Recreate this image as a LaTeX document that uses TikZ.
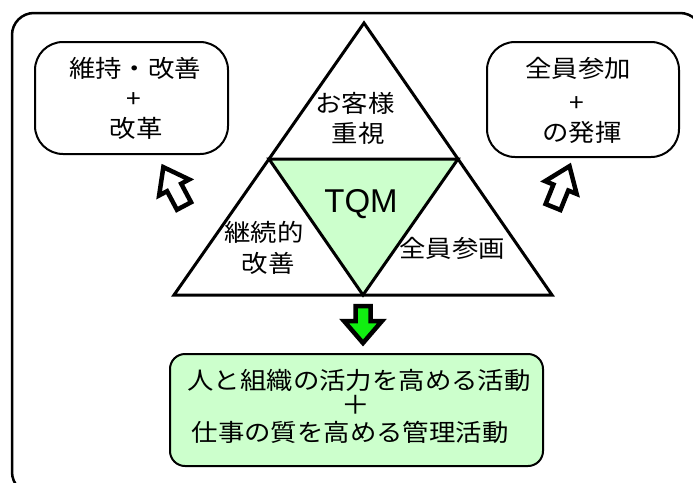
\documentclass[tikz,border=0pt]{standalone}
\usepackage{fontspec}
\setmainfont{Noto Sans CJK JP}[FakeStretch=1.1]
\newfontfamily\tqmfont{Liberation Sans}
\definecolor{lgreen}{HTML}{CCFFCC}
\definecolor{bgreen}{HTML}{11EE11}
\tikzset{
  jp/.style={inner sep=0pt, font=\fontsize{24}{26}\selectfont},
  roundbox/.style={draw=black, line width=2pt, rounded corners=28pt},
  tri/.style={line width=3pt, line join=miter},
  hollow/.style={draw=black, fill=white, line width=4.5pt, line join=miter},
}
\newcommand{\blockarrow}[5]{% length, headlen, headhalf, shafthalf, style
  \path[#5] (0,-#4) -- ({#1-#2},-#4) -- ({#1-#2},-#3) -- (#1,0) -- ({#1-#2},#3) -- ({#1-#2},#4) -- (0,#4) -- cycle;}
\begin{document}
\begin{tikzpicture}[x=1pt,y=-1pt]
\useasboundingbox (0,0) rectangle (693,482);
\clip (0,0) rectangle (693,482);
% outer frame
\draw[line width=2.5pt, rounded corners=22pt] (12,13) rectangle (702,494);
% boxes
\node[roundbox, minimum width=193pt, minimum height=112pt] (lbox) at (131.5,98) {};
\node[roundbox, minimum width=192pt, minimum height=115pt] (rbox) at (583,99.5) {};
\node[draw=black, fill=lgreen, line width=2pt, rounded corners=15pt, minimum width=373pt, minimum height=112pt] (bbox) at (356.5,410) {};
% triangle
\coordinate (A) at (364,23);
\coordinate (B) at (174,295);
\coordinate (C) at (552,295);
\coordinate (AB) at (269,159);
\coordinate (AC) at (458,159);
\coordinate (BC) at (363,295);
\fill[lgreen] (AB) -- (AC) -- (BC) -- cycle;
\draw[tri] (A) -- (B) -- (C) -- cycle;
\draw[tri] (AB) -- (AC) -- (BC) -- cycle;
% texts
\node[jp] (t1) at (135,68) {維持・改善};
\node[jp] (t2) at (134,100) {+};
\node[jp] (t3) at (136,128) {改革};
\node[jp] (t4) at (578,68) {全員参加};
\node[jp] (t5) at (577,104) {+};
\node[jp] (t6) at (582,132) {の発揮};
\node[jp] (t7) at (355,103) {お客様};
\node[jp] (t8) at (358,133) {重視};
\node[inner sep=0pt, font=\tqmfont\fontsize{33}{36}\selectfont] (tqm) at (361,204) {TQM};
\node[jp] (t9) at (264,232) {継続的};
\node[jp] (t10) at (268,263) {改善};
\node[jp] (t11) at (452,248) {全員参画};
\node[jp] (b1) at (359,380) {人と組織の活力を高める活動};
\node[jp, font=\fontsize{26}{28}\selectfont] (b2) at (356,405) {＋};
\node[jp] (b3) at (350,432) {仕事の質を高める管理活動};
% arrows
\begin{scope}[shift={(184,206)}, rotate=118]
  \blockarrow{44}{23}{17}{8}{hollow}
\end{scope}
\begin{scope}[shift={(553,207)}, rotate=68]
  \blockarrow{44}{23}{17}{8}{hollow}
\end{scope}
\begin{scope}[shift={(363,306)}, rotate=-90]
  \blockarrow{37}{22}{19}{7.5}{draw=black, fill=bgreen, line width=4.5pt, line join=miter}
\end{scope}
\end{tikzpicture}
\end{document}
